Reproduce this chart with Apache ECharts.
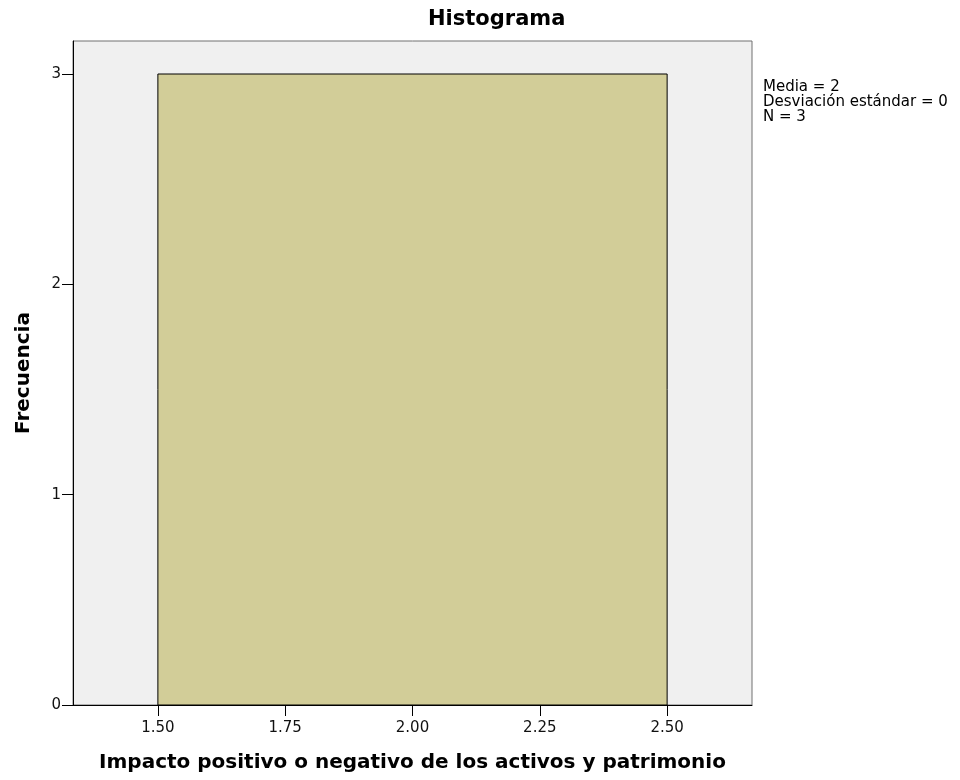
<!DOCTYPE html>
<html><head><meta charset="utf-8">
<script src="https://cdn.jsdelivr.net/npm/echarts@6/dist/echarts.min.js"></script>
<style>html,body{margin:0;padding:0;background:#fff}#c{width:960px;height:780px}</style>
</head><body><div id="c"></div>
<script>
const binStarts = [1.5];
const binEnds = [2.5];
const frequencies = [3];
const xTicks = [1.5, 1.75, 2.0, 2.25, 2.5];
const yTicks = [0, 1, 2, 3];
const statsLines = ['Media = 2', 'Desviación estándar = 0', 'N = 3'];

const FONT = '"DejaVu Sans", Verdana, sans-serif';
const chart = echarts.init(document.getElementById('c'), null, {renderer: 'canvas'});
const data = binStarts.map((s, i) => [s, binEnds[i], frequencies[i]]);

chart.setOption({
  animation: false,
  backgroundColor: '#ffffff',
  title: {
    text: 'Histograma', left: 428, top: 9, padding: 0,
    textStyle: {fontFamily: FONT, fontSize: 21, lineHeight: 21, fontWeight: 'bold', color: '#000'}
  },
  graphic: [{
    type: 'text', left: 763, top: 80,
    style: {text: statsLines.join('\n'), font: '15px ' + FONT, fill: '#000', lineHeight: 15}
  }],
  grid: {left: 73, top: 41, right: 208, bottom: 75, show: true,
    backgroundColor: '#f0f0f0', borderColor: '#707070', borderWidth: 1},
  xAxis: {
    type: 'value', min: 4/3, max: 8/3,
    name: 'Impacto positivo o negativo de los activos y patrimonio',
    nameLocation: 'middle', nameGap: 48,
    nameTextStyle: {fontFamily: FONT, fontSize: 20, fontWeight: 'bold', color: '#000'},
    axisLine: {show: true, onZero: false, lineStyle: {color: '#000', width: 1}},
    axisTick: {show: true, length: 11, customValues: xTicks, lineStyle: {color: '#000'}},
    axisLabel: {customValues: xTicks, margin: 16, fontFamily: FONT, fontSize: 15, color: '#111',
      formatter: v => v.toFixed(2)},
    splitLine: {show: false}
  },
  yAxis: {
    type: 'value', min: 0, max: 3 * 664 / 631,
    name: 'Frecuencia', nameLocation: 'middle', nameGap: 39, nameRotate: 90,
    nameTextStyle: {fontFamily: FONT, fontSize: 20, fontWeight: 'bold', color: '#000'},
    axisLine: {show: true, onZero: false, lineStyle: {color: '#000', width: 1}},
    axisTick: {show: true, length: 11, customValues: yTicks, lineStyle: {color: '#000'}},
    axisLabel: {customValues: yTicks, margin: 12, fontFamily: FONT, fontSize: 15, color: '#111'},
    splitLine: {show: false}
  },
  series: [{
    type: 'custom',
    data: data,
    encode: {x: [0, 1], y: 2},
    renderItem: function (params, api) {
      const p0 = api.coord([api.value(0), 0]);
      const p1 = api.coord([api.value(1), api.value(2)]);
      return {
        type: 'rect',
        shape: {x: p0[0], y: p1[1], width: p1[0] - p0[0], height: p0[1] - p1[1]},
        style: {fill: '#d2cd98', stroke: '#000', lineWidth: 1}
      };
    }
  }]
});
</script></body></html>
